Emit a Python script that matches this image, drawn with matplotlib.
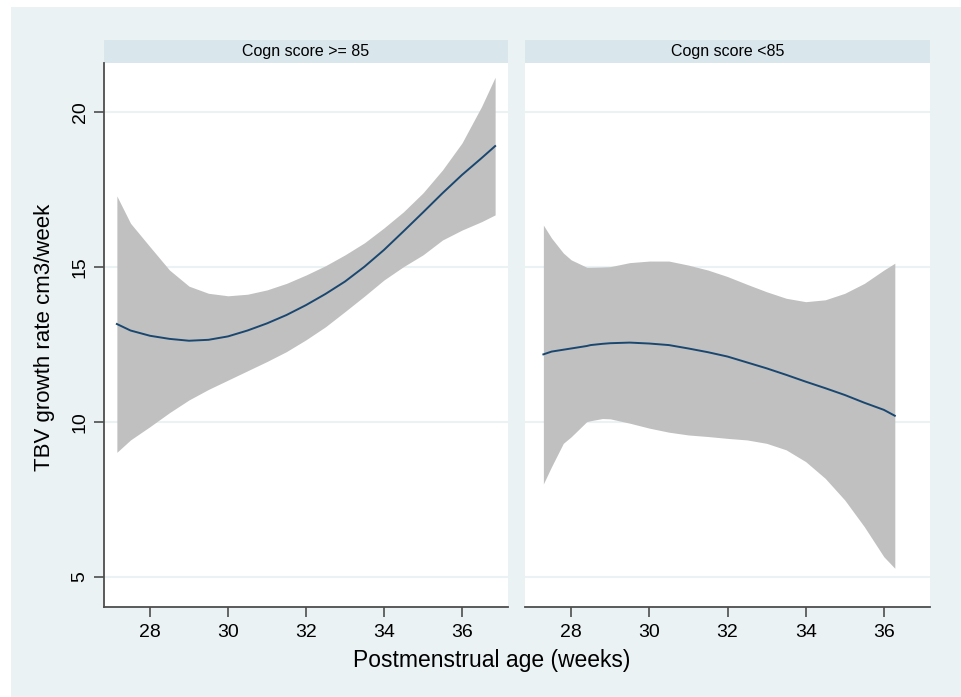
import numpy as np
import matplotlib.pyplot as plt
from matplotlib.patches import Rectangle

plt.rcParams['font.family'] = ['Liberation Sans', 'DejaVu Sans']

# panel titles
panels = ['Cogn score >= 85', 'Cogn score <85']

# left panel: fitted curve and 95% CI
age_hi = [27.15, 27.5, 28, 28.5, 29, 29.5, 30, 30.5, 31, 31.5, 32, 32.5, 33,
          33.5, 34, 34.5, 35, 35.5, 36, 36.5, 36.85]
fit_hi = [13.16, 12.95, 12.78, 12.68, 12.62, 12.65, 12.76, 12.95, 13.18, 13.45,
          13.77, 14.13, 14.53, 15.01, 15.55, 16.15, 16.76, 17.38, 17.97, 18.51, 18.90]
upp_hi = [17.29, 16.41, 15.65, 14.90, 14.38, 14.15, 14.07, 14.12, 14.26, 14.47,
          14.74, 15.04, 15.39, 15.78, 16.26, 16.78, 17.39, 18.13, 19.0, 20.17, 21.12]
low_hi = [9.02, 9.42, 9.85, 10.30, 10.71, 11.05, 11.35, 11.65, 11.95, 12.27,
          12.65, 13.07, 13.56, 14.06, 14.58, 15.01, 15.39, 15.87, 16.19, 16.46, 16.68]

# right panel
age_lo = [27.29, 27.5, 27.8, 28, 28.4, 28.5, 28.8, 29, 29.5, 30, 30.5, 31, 31.5,
          32, 32.5, 33, 33.5, 34, 34.5, 35, 35.5, 36, 36.28]
fit_lo = [12.18, 12.27, 12.33, 12.37, 12.45, 12.48, 12.52, 12.54, 12.56, 12.53,
          12.48, 12.37, 12.25, 12.11, 11.92, 11.73, 11.52, 11.30, 11.09, 10.87,
          10.62, 10.39, 10.20]
upp_lo = [16.35, 15.93, 15.45, 15.23, 14.99, 14.99, 15.0, 15.01, 15.14, 15.19,
          15.19, 15.06, 14.90, 14.69, 14.44, 14.2, 13.99, 13.88, 13.94, 14.15,
          14.47, 14.9, 15.12]
low_lo = [8.0, 8.56, 9.31, 9.52, 10.01, 10.04, 10.11, 10.10, 9.96, 9.80, 9.67,
          9.58, 9.53, 9.47, 9.42, 9.31, 9.10, 8.72, 8.18, 7.48, 6.62, 5.65, 5.28]

xticks = [28, 30, 32, 34, 36]
yticks = [5, 10, 15, 20]

W, H = 961, 697
bg = '#EAF2F3'
strip = '#D9E6EC'
navy = '#1A476F'
band = '#C0C0C0'

fig = plt.figure(figsize=(W / 100, H / 100), dpi=100)
fig.patch.set_facecolor('white')
fig.patches.append(Rectangle((11 / W, 0), 1, 1 - 7 / H, transform=fig.transFigure,
                             facecolor=bg, edgecolor='none', zorder=-10))

def box(x0, x1, y0=63, y1=607):
    return [x0 / W, 1 - y1 / H, (x1 - x0) / W, (y1 - y0) / H]

ax1 = fig.add_axes(box(104, 508))
ax2 = fig.add_axes(box(525, 930))

data = [(age_hi, fit_hi, upp_hi, low_hi), (age_lo, fit_lo, upp_lo, low_lo)]
for i, (ax, (x, f, u, l)) in enumerate(zip([ax1, ax2], data)):
    ax.set_facecolor('white')
    ax.fill_between(x, l, u, color=band, linewidth=0, zorder=2)
    ax.plot(x, f, color=navy, linewidth=1.4, zorder=3)
    ax.set_xlim(26.82, 37.18)
    ax.set_ylim(4.03, 21.58)
    ax.set_xticks(xticks)
    ax.set_yticks(yticks)
    for yv in yticks:
        ax.axhline(yv, color=bg, linewidth=1.5, zorder=1)
    for s in ['top', 'right']:
        ax.spines[s].set_visible(False)
    ax.spines['bottom'].set_color('#4D4D4D')
    ax.spines['bottom'].set_linewidth(1.3)
    ax.tick_params(axis='x', length=7, width=1.2, color='#4D4D4D', labelsize=14, pad=5)
    # header strip
    ax.add_patch(Rectangle((0, 1), 1, 23 / 544, transform=ax.transAxes,
                           facecolor=strip, edgecolor='none', clip_on=False))
    ax.text(0.5, 1 + 11.5 / 544, panels[i], transform=ax.transAxes,
            ha='center', va='center', fontsize=11.5)

ax1.spines['left'].set_color('#4D4D4D')
ax1.spines['left'].set_linewidth(1.3)
ax1.tick_params(axis='y', length=7, width=1.2, color='#4D4D4D', labelsize=14, pad=4)
for lab in ax1.get_yticklabels():
    lab.set_rotation(90)
    lab.set_va('center')
ax2.spines['left'].set_visible(False)
ax2.tick_params(axis='y', left=False, labelleft=False)

fig.text(492 / W, 1 - 661 / H, 'Postmenstrual age (weeks)', ha='center', va='center', fontsize=16.5)
fig.text(45 / W, 1 - 337 / H, 'TBV growth rate cm3/week', ha='center', va='center',
         rotation=90, fontsize=16)

fig.savefig('out.png', dpi=100, facecolor=fig.get_facecolor())
